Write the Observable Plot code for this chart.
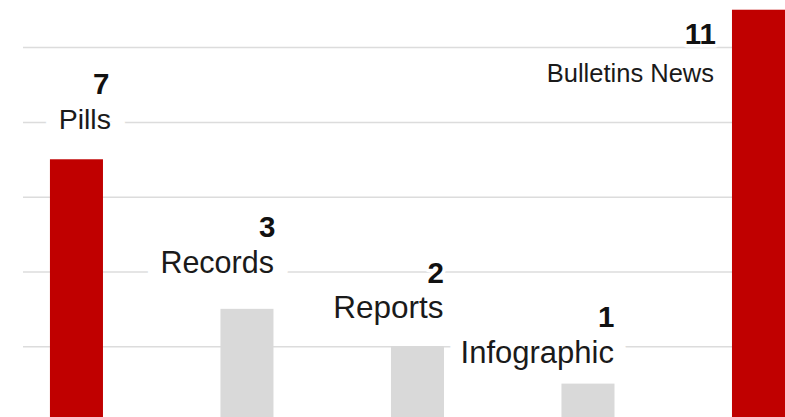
<!DOCTYPE html>
<html>
<head>
<meta charset="utf-8">
<script src="https://cdn.jsdelivr.net/npm/d3@7"></script>
<script src="https://cdn.jsdelivr.net/npm/@observablehq/plot@0.6"></script>
<style>
  html, body { margin: 0; padding: 0; background: #fff; }
  #chart svg { display: block; }
</style>
</head>
<body>
<div id="chart"></div>
<script>
// ---- data ----
const categories = ["Pills", "Records", "Reports", "Infographic", "Bulletins News"];
const values = [7, 3, 2, 1, 11];
const gridTicks = [2, 4, 6, 8, 10];
const highlighted = ["Pills", "Bulletins News"];

const data = categories.map((c, i) => ({category: c, value: values[i]}));

// ---- label layout (offsets in px relative to bar top / band centre) ----
const labelLayout = {
  "Pills":          {size: 28.5, dx: 34,   dy: -31, numDx: 32.5, numDy: -66, pad: 30},
  "Records":        {size: 30.5, dx: 26.5, dy: -36, numDx: 28,   numDy: -72, pad: 30},
  "Reports":        {size: 31.5, dx: 25.5, dy: -29, numDx: 26,   numDy: -64, pad: 30},
  "Infographic":    {size: 31,   dx: 25.5, dy: -21, numDx: 26,   numDy: -57, pad: 26},
  "Bulletins News": {size: 25.5, dx: -45,  dy: 72,  numDx: -43,  numDy: 34,  pad: 28}
};

const font = "'Liberation Sans', Arial, Helvetica, sans-serif";
const red = "#c00000";
const gray = "#d9d9d9";

const nameOpts = (c, extra) => {
  const L = labelLayout[c];
  return {
    filter: d => d.category === c,
    x: "category", y: "value", text: "category",
    textAnchor: "end", lineAnchor: "bottom",
    dx: L.dx, dy: L.dy,
    fontSize: L.size, fontFamily: font, fontWeight: 400,
    ...extra
  };
};

// white label "boxes" that hide the grid behind each name
const backdropMarks = categories.map(c =>
  Plot.text(data, nameOpts(c, {fill: "white", stroke: "white", strokeWidth: labelLayout[c].pad, strokeLinejoin: "round"}))
);

const labelMarks = categories.flatMap(c => {
  const L = labelLayout[c];
  return [
    Plot.text(data, nameOpts(c, {fill: "#1a1a1a"})),
    Plot.text(data, {
      filter: d => d.category === c,
      x: "category", y: "value", text: d => String(d.value),
      textAnchor: "end", lineAnchor: "bottom",
      dx: L.numDx, dy: L.numDy,
      fontSize: 29.5, fontFamily: font, fontWeight: 700,
      fill: "#111", stroke: "white", strokeWidth: 7, paintOrder: "stroke"
    })
  ];
});

const chart = Plot.plot({
  width: 785,
  height: 417,
  marginLeft: 23,
  marginRight: 0,
  marginTop: 0,
  marginBottom: 0,
  style: {background: "white", fontFamily: font},
  x: {domain: categories, paddingInner: 0.689, paddingOuter: 0.079, align: 1, round: false, axis: null},
  y: {domain: [0, 11.26], range: [421, 0], axis: null},
  marks: [
    Plot.gridY(gridTicks, {stroke: "#dcdcdc", strokeOpacity: 1, strokeWidth: 1.5}),
    Plot.barY(data, {
      x: "category", y: "value",
      fill: d => highlighted.includes(d.category) ? red : gray
    }),
    ...backdropMarks,
    ...labelMarks
  ]
});

document.getElementById("chart").appendChild(chart);
</script>
</body>
</html>
